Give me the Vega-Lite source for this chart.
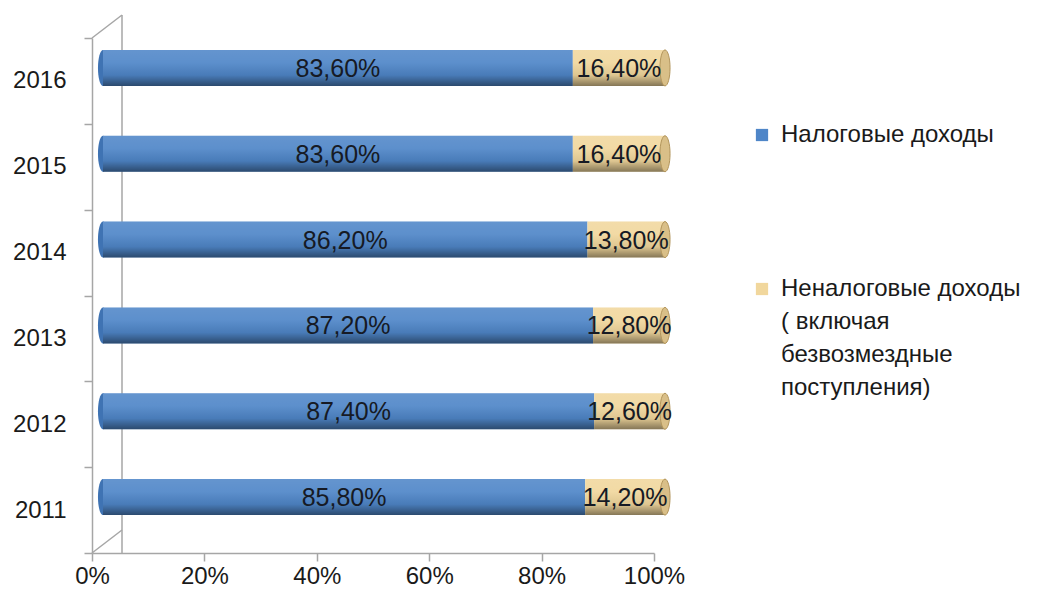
{
  "$schema": "https://vega.github.io/schema/vega-lite/v6.json",
  "width": 562,
  "height": 515,
  "autosize": {"type": "none"},
  "padding": {"left": 92, "top": 38, "right": 387, "bottom": 48},
  "background": "white",
  "config": {
    "view": {"stroke": null},
    "font": "Liberation Sans",
    "locale": {"number": {"decimal": ",", "thousands": " ", "grouping": [3], "currency": ["", " ₽"]}}
  },
  "layer": [
    {
      "data": {"values": [{"k": 0}]},
      "layer": [
        {
          "mark": {"type": "rule", "color": "#a6a6a6", "strokeWidth": 1.5, "xOffset": 30, "yOffset": -23},
          "encoding": {"x": {"datum": 0, "type": "quantitative", "scale": {"domain": [0, 1]}}}
        },
        {
          "mark": {"type": "rule", "color": "#a6a6a6", "strokeWidth": 1.5, "x2Offset": 30, "y2Offset": -23},
          "encoding": {"x": {"datum": 0, "type": "quantitative"}, "x2": {"datum": 0}, "y": {"value": "height"}, "y2": {"value": "height"}}
        },
        {
          "mark": {"type": "rule", "color": "#a6a6a6", "strokeWidth": 1.5, "x2Offset": 30, "y2Offset": -23},
          "encoding": {"x": {"datum": 0, "type": "quantitative"}, "x2": {"datum": 0}, "y": {"value": 0}, "y2": {"value": 0}}
        }
      ]
    },
    {
      "data": {"values": [
        {"year": "2011", "type": "Налоговые доходы", "value": 0.858},
        {"year": "2011", "type": "Неналоговые доходы ( включая безвозмездные поступления)", "value": 0.142},
        {"year": "2012", "type": "Налоговые доходы", "value": 0.874},
        {"year": "2012", "type": "Неналоговые доходы ( включая безвозмездные поступления)", "value": 0.126},
        {"year": "2013", "type": "Налоговые доходы", "value": 0.872},
        {"year": "2013", "type": "Неналоговые доходы ( включая безвозмездные поступления)", "value": 0.128},
        {"year": "2014", "type": "Налоговые доходы", "value": 0.862},
        {"year": "2014", "type": "Неналоговые доходы ( включая безвозмездные поступления)", "value": 0.138},
        {"year": "2015", "type": "Налоговые доходы", "value": 0.836},
        {"year": "2015", "type": "Неналоговые доходы ( включая безвозмездные поступления)", "value": 0.164},
        {"year": "2016", "type": "Налоговые доходы", "value": 0.836},
        {"year": "2016", "type": "Неналоговые доходы ( включая безвозмездные поступления)", "value": 0.164}
      ]},
      "transform": [
        {"stack": "value", "groupby": ["year"], "sort": [{"field": "type", "order": "ascending"}], "as": ["start", "end"]},
        {"calculate": "(datum.start + datum.end) / 2", "as": "mid"}
      ],
      "encoding": {
        "y": {
          "field": "year", "type": "nominal", "sort": "descending",
          "scale": {"paddingInner": 0, "paddingOuter": 0},
          "axis": {
            "title": null, "domainColor": "#a6a6a6", "domainWidth": 1.5,
            "tickColor": "#a6a6a6", "tickWidth": 1.5, "tickSize": 8, "tickBand": "extent",
            "labelFontSize": 24, "labelColor": "#1a1a1a", "labelPadding": 18
          }
        }
      },
      "layer": [
        {
          "transform": [{"filter": "datum.type == 'Налоговые доходы'"}],
          "mark": {"type": "point", "shape": "M0,-1A0.28,1 0 1,1 0,1A0.28,1 0 1,1 0,-1Z", "size": 1296, "filled": true, "color": "#3f73b3", "opacity": 1, "xOffset": 11, "yOffset": -13},
          "encoding": {"x": {"field": "start", "type": "quantitative"}}
        },
        {
          "mark": {"type": "bar", "size": 36, "xOffset": 11, "x2Offset": 11, "yOffset": -13},
          "encoding": {
            "x": {
              "field": "start", "type": "quantitative", "scale": {"domain": [0, 1]},
              "axis": {
                "title": null, "format": "%", "values": [0, 0.2, 0.4, 0.6, 0.8, 1], "grid": false,
                "domainColor": "#a6a6a6", "domainWidth": 1.5, "tickColor": "#a6a6a6", "tickWidth": 1.5, "tickSize": 8,
                "labelFontSize": 24, "labelColor": "#1a1a1a", "labelPadding": 3, "labelFlush": false
              }
            },
            "x2": {"field": "end"},
            "color": {
              "field": "type", "type": "nominal",
              "scale": {"domain": ["Налоговые доходы", "Неналоговые доходы ( включая безвозмездные поступления)"], "range": ["#4f86c8", "#f1d79d"]},
              "legend": {
                "title": null, "orient": "none", "legendX": 658, "legendY": 85,
                "symbolType": "square", "symbolSize": 150, "symbolStrokeWidth": 0,
                "labelFontSize": 24, "labelColor": "#1a1a1a", "labelLimit": 400, "labelOffset": 7,
                "rowPadding": 130,
                "labelExpr": "datum.label == 'Налоговые доходы' ? datum.label : ['Неналоговые доходы', '( включая', 'безвозмездные', 'поступления)']",
                "encode": {"labels": {"update": {"lineHeight": {"value": 33}}}}
              }
            }
          }
        },
        {
          "mark": {
            "type": "bar", "size": 36, "xOffset": 11, "x2Offset": 11, "yOffset": -13,
            "fill": {"gradient": "linear", "x1": 0, "y1": 0, "x2": 0, "y2": 1, "stops": [
              {"offset": 0, "color": "rgba(255,255,255,0.12)"},
              {"offset": 0.35, "color": "rgba(255,255,255,0.08)"},
              {"offset": 0.7, "color": "rgba(0,0,0,0.08)"},
              {"offset": 1, "color": "rgba(0,0,0,0.45)"}
            ]}
          },
          "encoding": {"x": {"field": "start", "type": "quantitative"}, "x2": {"field": "end"}}
        },
        {
          "transform": [{"filter": "datum.type != 'Налоговые доходы'"}],
          "mark": {"type": "point", "shape": "M0,-1A0.28,1 0 1,1 0,1A0.28,1 0 1,1 0,-1Z", "size": 1296, "filled": true, "color": "#d9bf88", "opacity": 1, "stroke": "#b2955c", "strokeWidth": 1, "xOffset": 11, "yOffset": -13},
          "encoding": {"x": {"field": "end", "type": "quantitative"}}
        },
        {
          "mark": {"type": "text", "fontSize": 25, "color": "#161a24", "xOffset": 11, "yOffset": -12},
          "encoding": {
            "x": {"field": "mid", "type": "quantitative"},
            "text": {"field": "value", "type": "quantitative", "format": ".2%"}
          }
        }
      ]
    }
  ]
}
